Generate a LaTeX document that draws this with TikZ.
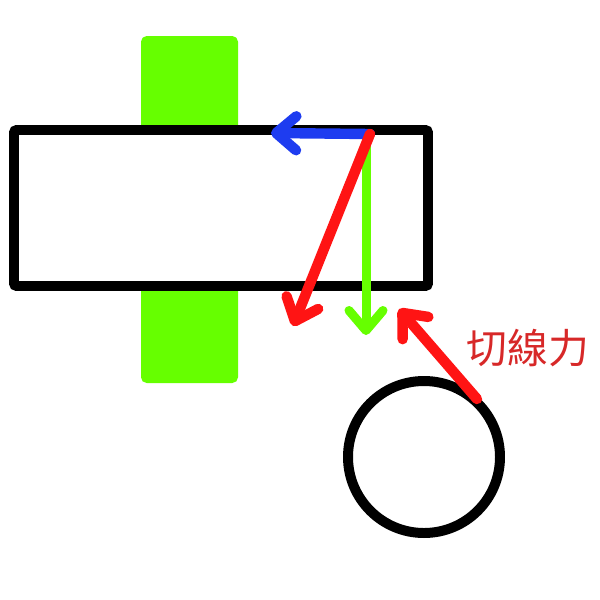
\documentclass[tikz,border=0pt]{standalone}
\usepackage{fontspec}
\newfontfamily\cjk{Noto Sans CJK TC}
\usetikzlibrary{arrows.meta}
\definecolor{pgreen}{RGB}{102,255,0}
\definecolor{pblue}{RGB}{30,60,240}
\definecolor{pred}{RGB}{255,20,20}
\definecolor{tred}{RGB}{215,40,40}
\tikzset{
  barb/.style={-{Straight Barb[length=0.5cm,width=0.85cm,line cap=round,line join=round]}, line cap=round, line width=7.4pt},
  outline/.style={draw=black, line width=7.1pt},
}
\begin{document}
\begin{tikzpicture}[x=0.025cm,y=-0.025cm]
\useasboundingbox (0,0) rectangle (600,600);
\fill[pgreen, rounded corners=4pt] (141,36) rectangle (238,383);
\draw[outline, fill=white, rounded corners=2pt] (14,130) rectangle (428,286);
\node[draw=black, line width=7.1pt, circle, minimum size=152*0.025cm, inner sep=0] (wheel) at (424,457) {};
\coordinate (o) at (370,134);
\coordinate (bt) at (271,133);
\coordinate (rt) at (293,326);
\coordinate (gs) at (366,140);
\coordinate (gt) at (366,335);
\coordinate (ts) at (477,399);
\coordinate (tt) at (399,309);
\draw[barb, pgreen, line width=6.4pt] (gs) -- (gt);
\draw[barb, pblue] (o) -- (bt);
\draw[barb, pred] (o) -- (rt);
\draw[barb, pred] (ts) -- (tt);
\node[text=tred, font=\cjk\fontsize{29}{31}\selectfont] (label) at (528,348) {切線力};
\end{tikzpicture}
\end{document}
